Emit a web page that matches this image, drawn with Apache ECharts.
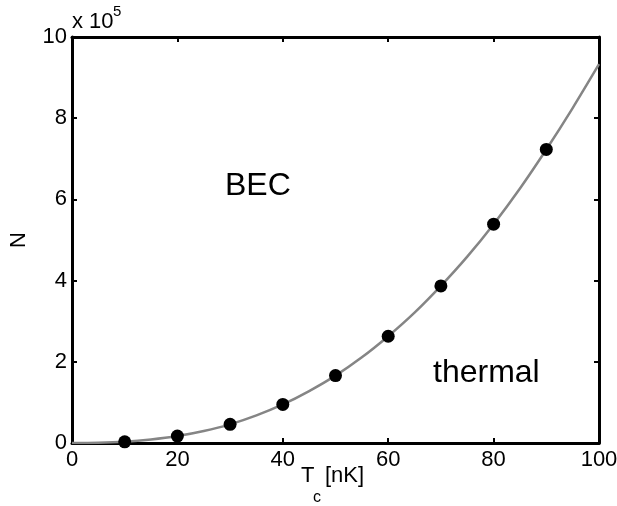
<!DOCTYPE html>
<html>
<head>
<meta charset="utf-8">
<script src="https://cdn.jsdelivr.net/npm/echarts@6/dist/echarts.min.js"></script>
<style>
html,body{margin:0;padding:0;background:#fff;}
#chart{width:617px;height:506px;}
</style>
</head>
<body>
<div id="chart"></div>
<script>
// Measured points: critical temperature Tc [nK] vs atom number N (in units of 10^5)
var measT = [10, 20, 30, 40, 50, 60, 70, 80, 90];
var measN = [0.03, 0.17, 0.46, 0.95, 1.66, 2.63, 3.87, 5.39, 7.23];
// Theory curve
var curveT = [0, 5, 10, 15, 20, 25, 30, 35, 40, 45, 50, 55, 60, 65, 70, 75, 80, 85, 90, 95, 100];
var curveN = [0, 0.005, 0.03, 0.085, 0.17, 0.295, 0.46, 0.68, 0.95, 1.28, 1.66, 2.11, 2.63, 3.21, 3.87, 4.59, 5.39, 6.27, 7.23, 8.25, 9.33];
var xTicks = [0, 20, 40, 60, 80, 100];
var yTicks = [0, 2, 4, 6, 8, 10];

var FONT = '"Liberation Sans", Arial, Helvetica, sans-serif';
var chart = echarts.init(document.getElementById('chart'), null, {renderer: 'canvas'});

function pairs(a, b) { return a.map(function (v, i) { return [v, b[i]]; }); }

var axisCommon = {
  type: 'value',
  splitLine: {show: false},
  axisLine: {show: true, onZero: false, lineStyle: {color: '#000', width: 3}},
  axisTick: {show: true, inside: true, length: 5, lineStyle: {color: '#000', width: 2}}
};

function txt(s, x, y, size) {
  return {type: 'text', x: x, y: y, z: 100,
    style: {text: s, fontSize: size, fontFamily: FONT, fill: '#000', verticalAlign: 'middle', align: 'left'}};
}

var option = {
  backgroundColor: '#fff',
  animation: false,
  grid: {left: 72, right: 18, top: 37, bottom: 63, containLabel: false, outerBoundsMode: 'none'},
  xAxis: [
    Object.assign({}, axisCommon, {
      min: 0, max: 100, interval: 20, position: 'bottom',
      axisLabel: {show: true, color: '#000', fontSize: 22, fontFamily: FONT, margin: 6,
        formatter: function (v) { return xTicks.indexOf(v) >= 0 ? String(v) : ''; }}
    }),
    Object.assign({}, axisCommon, {
      min: 0, max: 100, interval: 20, position: 'top',
      axisLabel: {show: false}
    })
  ],
  yAxis: [
    Object.assign({}, axisCommon, {
      min: 0, max: 10, interval: 2, position: 'left',
      axisLabel: {show: true, color: '#000', fontSize: 22, fontFamily: FONT, margin: 5,
        formatter: function (v) { return yTicks.indexOf(v) >= 0 ? String(v) : ''; }},
      name: 'N', nameLocation: 'middle', nameGap: 42, nameRotate: 90,
      nameTextStyle: {color: '#000', fontSize: 22, fontFamily: FONT}
    }),
    Object.assign({}, axisCommon, {
      min: 0, max: 10, interval: 2, position: 'right',
      axisLabel: {show: false}
    })
  ],
  graphic: [
    txt('x 10', 72, 21.5, 22),
    txt('5', 113, 12, 15),
    txt('T', 301, 475.5, 22),
    txt('c', 313, 498, 16),
    txt('[nK]', 325, 475.5, 22),
    txt('BEC', 225, 186, 32),
    txt('thermal', 433, 373, 32)
  ],
  series: [
    {
      type: 'line', name: 'theory', data: pairs(curveT, curveN),
      showSymbol: false, smooth: 0.3, z: 3,
      lineStyle: {color: '#858585', width: 2.5},
      clip: true
    },
    {
      type: 'scatter', name: 'measured', data: pairs(measT, measN),
      symbol: 'circle', symbolSize: 13, z: 4,
      itemStyle: {color: '#000', opacity: 1}
    }
  ]
};
chart.setOption(option);
</script>
</body>
</html>
